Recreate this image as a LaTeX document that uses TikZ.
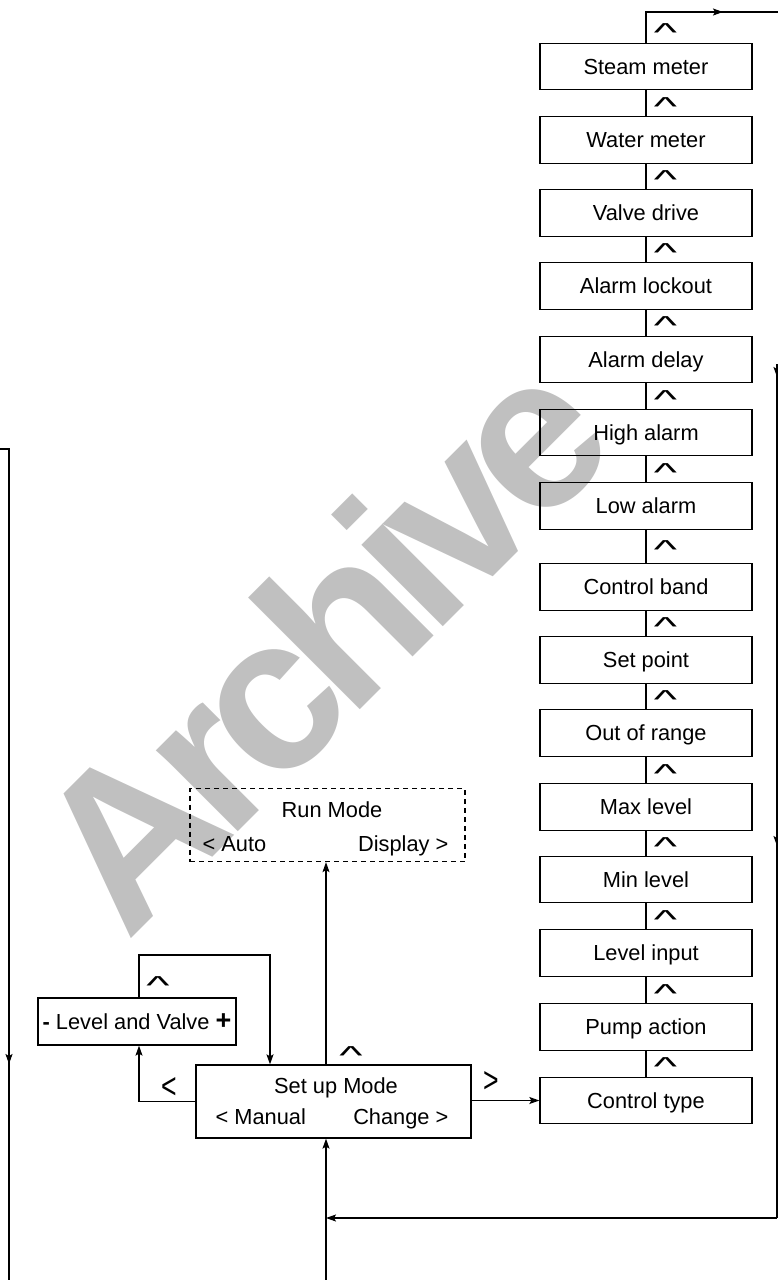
\documentclass[tikz,border=0pt]{standalone}
\usepackage{fontspec}
\usepackage{graphicx}
\setmainfont{Liberation Sans}
\newfontfamily\wmfont[LetterSpace=-7.5]{Liberation Sans}
\usetikzlibrary{arrows.meta,calc}
\definecolor{wm}{RGB}{192,192,192}
\newcommand\diagfont{\fontsize{21.8}{26}\selectfont}
\newcommand\upkey{\scalebox{1.9}[1]{\textasciicircum}}
\begin{document}
\begin{tikzpicture}[x=1pt,y=-1pt,line width=1.2pt,
  tip/.style={-{Stealth[length=10pt,width=7pt,inset=2pt]}},
  menubox/.style={draw,line width=1.3pt,minimum width=212pt,minimum height=46.5pt,
    inner sep=0pt,text height=15.6pt,text depth=0pt,font=\diagfont},
  modebox/.style={draw,line width=1.3pt,minimum width=275pt,minimum height=73pt,inner sep=0pt},
  lbl/.style={font=\diagfont,inner sep=0pt},
  caret/.style={font=\fontsize{26}{26}\selectfont,inner sep=0pt,anchor=base},
  chev/.style={font=\fontsize{36}{36}\selectfont,inner sep=0pt,anchor=base}]
\useasboundingbox (0,0) rectangle (778,1280);
% watermark
\node[font=\wmfont\fontsize{218}{218}\selectfont\bfseries,text=wm,inner sep=0pt,
  anchor=base west,rotate=45] (wmark) at (127,943) {Archive};
% right column
\node[menubox] (steam) at (646,66.5) {Steam meter};
\node[menubox] (water) at (646,140) {Water meter};
\node[menubox] (valve) at (646,213) {Valve drive};
\node[menubox] (lockout) at (646,286) {Alarm lockout};
\node[menubox] (delay) at (646,359.5) {Alarm delay};
\node[menubox] (high) at (646,432.5) {High alarm};
\node[menubox] (low) at (646,506) {Low alarm};
\node[menubox] (band) at (646,587) {Control band};
\node[menubox] (setp) at (646,660) {Set point};
\node[menubox] (range) at (646,733) {Out of range};
\node[menubox] (maxl) at (646,807) {Max level};
\node[menubox] (minl) at (646,879.5) {Min level};
\node[menubox] (linput) at (646,953) {Level input};
\node[menubox] (pump) at (646,1027) {Pump action};
\node[menubox] (ctrl) at (646,1100.5) {Control type};
\foreach \a/\b in {steam/water,water/valve,valve/lockout,lockout/delay,delay/high,
  high/low,low/band,band/setp,setp/range,range/maxl,maxl/minl,minl/linput,
  linput/pump,pump/ctrl}{
  \draw (\a.south) -- (\b.north);
  \path ($(\a.south)!0.5!(\b.north)$) ++(19.5,12.2) node[caret] {\upkey};
}
% top exit
\coordinate (t0) at (700,12);
\coordinate (t1) at (723,12);
\coordinate (t2) at (778,12);
\draw (steam.north) |- (t2);
\draw[tip] (t0) -- (t1);
\node[caret] (c0) at (665.5,41.7) {\upkey};
% run mode
\node[modebox,dashed,dash pattern=on 5pt off 4pt] (run) at (327.5,825) {};
\node[lbl,anchor=base] (runt) at (332,817) {Run Mode};
\node[lbl,anchor=base west] (auto) at (202,851) {< Auto};
\node[lbl,anchor=base east] (disp) at (449,851) {Display >};
% set up mode
\node[modebox] (setup) at (333.5,1101.5) {};
\node[lbl,anchor=base] (sett) at (336,1093) {Set up Mode};
\node[lbl,anchor=base west] (man) at (215,1124) {< Manual};
\node[lbl,anchor=base east] (chg) at (449,1124) {Change >};
% level and valve
\node[draw,line width=1.3pt,minimum width=198pt,minimum height=47pt,inner sep=0pt,
  text height=15.6pt,text depth=0pt,font=\diagfont] (lvl) at (137,1021.5)
  {\textbf{-} Level and Valve \textbf{\fontsize{27}{27}\selectfont+}};
% connectors
\coordinate (cx) at (326,0);
\draw[tip] (setup.north -| cx) -- (run.south -| cx);
\coordinate (bot) at (326,1280);
\draw[tip] (bot) -- (bot |- setup.south);
\draw[tip] (setup.east |- ctrl.west) -- (ctrl.west);
\coordinate (lx) at (139,0);
\draw[tip] (setup.west) -| (lvl.south -| lx);
\coordinate (loop) at (270,955);
\draw[tip] (lvl.north -| lx) |- (loop) -- (loop |- setup.north);
\node[caret] (c1) at (158,994.7) {\upkey};
\node[caret] (c2) at (351,1064.7) {\upkey};
\node[chev] (chl) at (169,1098.7) {\scalebox{0.74}[1]{<}};
\node[chev] (chr) at (491,1092.7) {\scalebox{0.74}[1]{>}};
% right return loop
\coordinate (r0) at (777,364);
\coordinate (r1) at (777,377);
\coordinate (r2a) at (777,820);
\coordinate (r2) at (777,846);
\coordinate (r3) at (777,1218);
\coordinate (join) at (326,1218);
\draw (r0) -- (r3);
\draw[tip] (r0) -- (r1);
\draw[tip] (r2a) -- (r2);
\draw[tip] (r3) -- (join);
% left long line
\coordinate (l0) at (0,449);
\coordinate (l1) at (9,449);
\coordinate (l2a) at (9,1040);
\coordinate (l2) at (9,1064);
\coordinate (l3) at (9,1280);
\draw (l0) -- (l1) -- (l3);
\draw[tip] (l2a) -- (l2);
\end{tikzpicture}
\end{document}
